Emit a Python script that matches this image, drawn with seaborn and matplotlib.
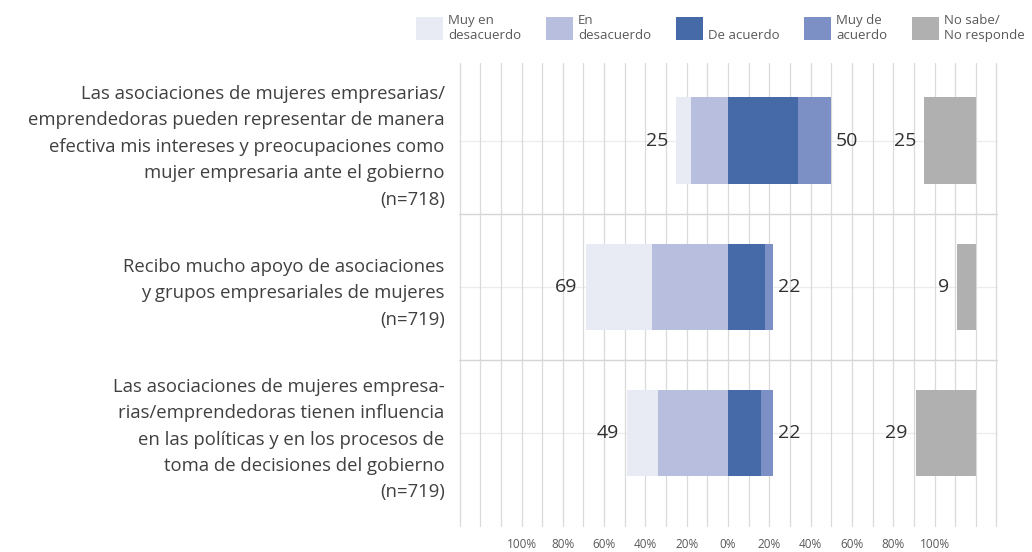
import matplotlib
matplotlib.use("Agg")
import matplotlib.pyplot as plt
import seaborn as sns
from matplotlib.patches import Patch

# Data (percentages)
statements = [
    "Las asociaciones de mujeres empresarias/\nemprendedoras pueden representar de manera\nefectiva mis intereses y preocupaciones como\nmujer empresaria ante el gobierno\n(n=718)",
    "Recibo mucho apoyo de asociaciones\ny grupos empresariales de mujeres\n(n=719)",
    "Las asociaciones de mujeres empresa-\nrias/emprendedoras tienen influencia\nen las políticas y en los procesos de\ntoma de decisiones del gobierno\n(n=719)",
]
muy_desacuerdo = [7, 32, 15]
en_desacuerdo = [18, 37, 34]
de_acuerdo = [34, 18, 16]
muy_acuerdo = [16, 4, 6]
no_sabe = [25, 9, 29]
neg_labels = [25, 69, 49]
pos_labels = [50, 22, 22]

legend_labels = ["Muy en\ndesacuerdo", "En\ndesacuerdo", "\nDe acuerdo", "Muy de\nacuerdo", "No sabe/\nNo responde"]
colors = ["#E8EBF4", "#B8BFDE", "#4669A8", "#7D90C5", "#B0B0B0"]
tick_pos = [-100, -80, -60, -40, -20, 0, 20, 40, 60, 80, 100]
tick_text = ["100%", "80%", "60%", "40%", "20%", "0%", "20%", "40%", "60%", "80%", "100%"]

sns.set_theme(style="white")
plt.rcParams["font.family"] = ["Open Sans", "DejaVu Sans"]

fig = plt.figure(figsize=(10.32, 5.52), dpi=100)
ax = fig.add_axes([0.4443, 0.0453, 0.5223, 0.8406])

neg_total = [-(a + b) for a, b in zip(muy_desacuerdo, en_desacuerdo)]
neg_inner = [-b for b in en_desacuerdo]
pos_total = [a + b for a, b in zip(de_acuerdo, muy_acuerdo)]

bh = 0.59
kw = dict(width=bh, ax=ax, saturation=1, linewidth=0, edgecolor="none", zorder=3)
sns.barplot(x=neg_total, y=statements, color=colors[0], **kw)
sns.barplot(x=neg_inner, y=statements, color=colors[1], **kw)
sns.barplot(x=pos_total, y=statements, color=colors[3], **kw)
sns.barplot(x=de_acuerdo, y=statements, color=colors[2], **kw)
ypos = range(len(statements))
ax.barh(ypos, no_sabe, left=[120 - g for g in no_sabe], height=bh, color=colors[4],
        linewidth=0, zorder=3)

# value labels
for i in ypos:
    ax.annotate(str(neg_labels[i]), (neg_total[i], i), xytext=(-6, 0), textcoords="offset points",
                ha="right", va="center", fontsize=14, color="#303030")
    ax.annotate(str(pos_labels[i]), (pos_total[i], i), xytext=(3, 0), textcoords="offset points",
                ha="left", va="center", fontsize=14, color="#303030")
    ax.annotate(str(no_sabe[i]), (120 - no_sabe[i], i), xytext=(-6, 0), textcoords="offset points",
                ha="right", va="center", fontsize=14, color="#303030")

# grid
ax.set_xlim(-130.5, 130.5)
ax.set_ylim(2.64, -0.53)
ax.set_xticks(range(-130, 131, 10), minor=True)
ax.set_xticks(tick_pos)
ax.set_xticklabels(tick_text)
ax.grid(axis="x", which="both", color="#DADADA", linewidth=0.9, zorder=0)
ax.grid(axis="y", visible=False)
for y in ypos:
    ax.axhline(y, color="#ECECEC", linewidth=0.9, zorder=0.5)
for y in [0.5, 1.5]:
    ax.axhline(y, color="#D5D5D5", linewidth=1.0, zorder=0.5)
for s in ax.spines.values():
    s.set_visible(False)
ax.set_xlabel("")
ax.set_ylabel("")
ax.tick_params(axis="x", which="both", length=0, pad=8, labelsize=8.5, labelcolor="#595959")
ax.tick_params(axis="y", length=0, pad=10, labelsize=13.3, labelcolor="#404040")
for lab in ax.get_yticklabels():
    lab.set_linespacing(1.6)

handles = [Patch(facecolor=c, edgecolor="none") for c in colors]
fig.legend(handles, legend_labels, loc="upper left", bbox_to_anchor=(0.394, 0.992), ncol=5,
           frameon=False, fontsize=9.5, handlelength=2.05, handleheight=2.3, handletextpad=0.4,
           columnspacing=1.85, labelcolor="#595959", borderpad=0.2, labelspacing=0)

fig.savefig("out.png", dpi=100, facecolor="white")
